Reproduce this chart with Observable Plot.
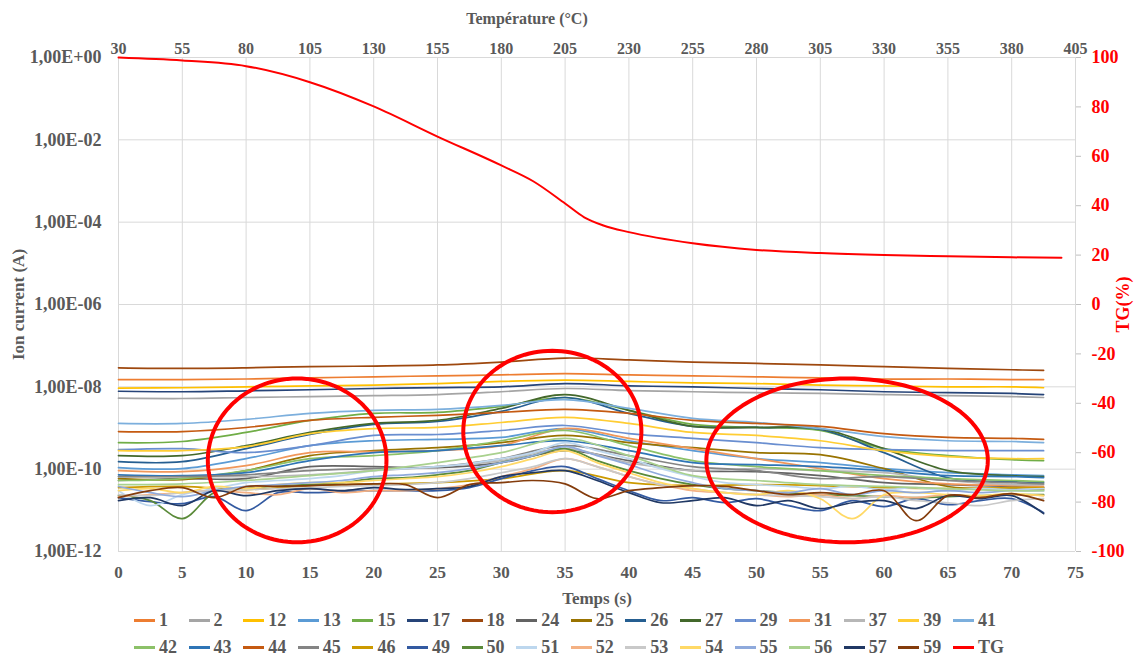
<!DOCTYPE html>
<html><head><meta charset="utf-8">
<script src="https://cdn.jsdelivr.net/npm/d3@7"></script>
<script src="https://cdn.jsdelivr.net/npm/@observablehq/plot@0.6"></script>
<style>
body{margin:0;background:#fff;font-family:"Liberation Serif","Times New Roman",serif;}
#chart svg{display:block;}
#chart svg text{font-family:"Liberation Serif","Times New Roman",serif !important;font-weight:bold;font-variant-numeric:normal !important;}
#legend{width:1137px;height:52px;margin-top:-5px;position:relative;font-weight:bold;font-size:18px;color:#595959;font-family:"Liberation Serif","Times New Roman",serif;}
.row{display:flex;padding-left:134px;height:27px;align-items:center;}
.item{width:54.6px;display:flex;align-items:center;flex:none;}
.sw{width:21px;height:2.5px;margin-right:4px;}
</style></head><body>
<div id="chart"></div><div id="legend"></div>
<script>
// ---- axes / ticks ----
const TIME_TICKS = [0,5,10,15,20,25,30,35,40,45,50,55,60,65,70,75];
const TEMP_LABELS = [30,55,80,105,130,155,180,205,230,255,280,305,330,355,380,405];
const LEFT_TICKS = [1,1e-2,1e-4,1e-6,1e-8,1e-10,1e-12];
const LEFT_TICK_LABELS = ["1,00E+00","1,00E-02","1,00E-04","1,00E-06","1,00E-08","1,00E-10","1,00E-12"];
const RIGHT_TICK_LABELS = [100,80,60,40,20,0,-20,-40,-60,-80,-100];

// ---- time grids (s) ----
const T5 = [0,5,10,15,20,25,30,35,40,45,50,55,60,65,70,72.5];
const T25 = [0,2.5,5,7.5,10,12.5,15,17.5,20,22.5,25,27.5,30,32.5,35,37.5,40,42.5,45,47.5,50,52.5,55,57.5,60,62.5,65,67.5,70,72.5];

// ---- ion current series (A) ----
const s1 = [1.5e-8,1.5e-8,1.55e-8,1.65e-8,1.75e-8,1.85e-8,1.95e-8,2.1e-8,1.95e-8,1.85e-8,1.75e-8,1.65e-8,1.55e-8,1.55e-8,1.5e-8,1.5e-8];
const s2 = [5.3e-9,5.2e-9,5.5e-9,5.8e-9,6.1e-9,6.5e-9,7.6e-9,9.1e-9,8.1e-9,7.6e-9,7.2e-9,6.9e-9,6.5e-9,6.1e-9,5.8e-9,5.5e-9];
const s12 = [9.3e-9,9.5e-9,1.0e-8,1.05e-8,1.1e-8,1.2e-8,1.35e-8,1.45e-8,1.35e-8,1.25e-8,1.2e-8,1.1e-8,1.05e-8,1.0e-8,1.0e-8,9.5e-9];
const s13 = [1.09e-10,1.03e-10,1.8e-10,3.72e-10,4.9e-10,5.3e-10,5.9e-10,9.7e-10,4.9e-10,2.82e-10,1.8e-10,1.44e-10,1.03e-10,8.2e-11,7.3e-11,6.95e-11];
const s15 = [4.4e-10,4.7e-10,7.8e-10,1.53e-9,2.27e-9,2.4e-9,3.36e-9,5.5e-9,2.69e-9,1.22e-9,1.03e-9,8.7e-10,3.15e-10,2.13e-10,1.7e-10,1.61e-10];
const s17 = [7.8e-9,7.6e-9,8.0e-9,8.5e-9,9.1e-9,9.6e-9,1.0e-8,1.2e-8,1.06e-8,1.0e-8,9.1e-9,8.5e-9,7.6e-9,7.2e-9,6.9e-9,6.5e-9];
const s18 = [2.9e-8,2.8e-8,2.9e-8,3.1e-8,3.2e-8,3.4e-8,4.0e-8,5.0e-8,4.5e-8,4.0e-8,3.7e-8,3.4e-8,3.1e-8,2.8e-8,2.6e-8,2.5e-8];
const s24 = [5.3e-11,5.9e-11,5.9e-11,1.15e-10,1.15e-10,1.09e-10,1.44e-10,2.82e-10,1.61e-10,9.2e-11,8.7e-11,6.95e-11,4.7e-11,4.2e-11,3.8e-11,3.55e-11];
const s25 = [5.9e-11,5.6e-11,9.2e-11,2.13e-10,2.82e-10,3.33e-10,4.4e-10,6.6e-10,4.4e-10,3.33e-10,2.52e-10,2.25e-10,1.03e-10,3.8e-11,3.36e-11,3.2e-11];
const s26 = [1.52e-10,1.52e-10,3.15e-10,6.95e-10,1.22e-9,1.44e-9,2.54e-9,5.5e-9,2.27e-9,1.09e-9,1.03e-9,9.2e-10,2.52e-10,6.2e-11,5.0e-11,4.7e-11];
const s27 = [2.13e-10,2.13e-10,3.72e-10,7.8e-10,1.29e-9,1.53e-9,3.0e-9,6.5e-9,2.69e-9,1.09e-9,1.03e-9,9.7e-10,3.15e-10,9.2e-11,6.95e-11,6.6e-11];
const s29 = [2.98e-10,3.15e-10,2.52e-10,3.72e-10,6.6e-10,6.95e-10,8.7e-10,1.15e-9,7.3e-10,5.6e-10,4.4e-10,3.33e-10,2.98e-10,2.82e-10,2.82e-10,2.82e-10];
const s31 = [9.2e-11,8.7e-11,1.22e-10,2.52e-10,2.66e-10,2.82e-10,3.72e-10,9.7e-10,5.6e-10,3.15e-10,1.8e-10,1.03e-10,5.9e-11,4.4e-11,4.0e-11,3.8e-11];
const s37 = [6.6e-11,6.6e-11,6.6e-11,7.3e-11,9.2e-11,1.15e-10,1.61e-10,3.15e-10,1.44e-10,9.2e-11,1.03e-10,9.2e-11,8.2e-11,5.3e-11,4.2e-11,4.2e-11];
const s39 = [2.82e-10,2.82e-10,3.52e-10,7.3e-10,9.7e-10,1.03e-9,1.36e-9,1.82e-9,1.29e-9,7.8e-10,6.6e-10,4.9e-10,2.82e-10,2.01e-10,1.8e-10,1.8e-10];
const s41 = [1.29e-9,1.29e-9,1.62e-9,2.27e-9,2.69e-9,2.84e-9,3.55e-9,4.9e-9,3.0e-9,1.72e-9,1.36e-9,9.7e-10,6.2e-10,4.9e-10,4.7e-10,4.4e-10];
const s42 = [5.3e-11,5.9e-11,9.2e-11,1.8e-10,2.13e-10,2.82e-10,4.9e-10,8.7e-10,3.72e-10,1.61e-10,1.15e-10,9.2e-11,6.95e-11,5.9e-11,5.3e-11,5.0e-11];
const s43 = [7.3e-11,6.95e-11,8.2e-11,1.61e-10,2.52e-10,2.82e-10,3.72e-10,4.9e-10,2.82e-10,1.44e-10,1.29e-10,1.15e-10,9.2e-11,6.95e-11,6.6e-11,6.2e-11];
const s44 = [8.2e-10,8.2e-10,1.03e-9,1.53e-9,1.82e-9,2.03e-9,2.4e-9,2.84e-9,2.27e-9,1.53e-9,1.29e-9,1.09e-9,7.3e-10,5.9e-10,5.6e-10,5.3e-10];
const s45 = [6.6e-11,6.6e-11,7.3e-11,9.2e-11,1.03e-10,1.15e-10,1.8e-10,3.72e-10,2.13e-10,1.15e-10,9.2e-11,5.9e-11,6.6e-11,5.3e-11,4.7e-11,4.4e-11];
const s46 = [3.55e-11,3.8e-11,3.2e-11,4.0e-11,4.4e-11,4.7e-11,5.9e-11,9.2e-11,4.7e-11,4.0e-11,4.2e-11,4.0e-11,3.55e-11,3.36e-11,3.55e-11,3.55e-11];
const s49 = [2.03e-11,1.62e-11,1.45e-11,2.15e-11,9.8e-12,2.69e-11,2.69e-11,2.84e-11,3.0e-11,3.0e-11,3.0e-11,3.55e-11,5.9e-11,9.2e-11,1.15e-10,5.9e-11,3.0e-11,1.72e-11,2.03e-11,1.53e-11,1.92e-11,1.3e-11,9.8e-12,1.72e-11,1.23e-11,1.92e-11,1.37e-11,1.72e-11,1.92e-11,8.8e-12];
const s50 = [2.27e-11,1.72e-11,6.3e-12,2.69e-11,3.36e-11,4.0e-11,4.2e-11,4.7e-11,5.9e-11,6.2e-11,7.3e-11,9.2e-11,1.44e-10,2.13e-10,3.15e-10,1.61e-10,9.2e-11,5.9e-11,4.2e-11,3.36e-11,3.0e-11,2.69e-11,2.4e-11,2.27e-11,2.15e-11,2.03e-11,2.15e-11,2.27e-11,2.4e-11,2.4e-11];
const s51 = [3.0e-11,1.3e-11,2.4e-11,3.36e-11,4.7e-11,5.3e-11,5.9e-11,6.95e-11,9.2e-11,1.03e-10,1.15e-10,1.36e-10,1.8e-10,2.52e-10,4.4e-10,2.82e-10,1.8e-10,1.03e-10,6.6e-11,4.7e-11,4.2e-11,3.8e-11,3.36e-11,3.8e-11,3.2e-11,3.55e-11,3.0e-11,3.36e-11,3.2e-11,3.36e-11];
const s52 = [2.15e-11,2.4e-11,2.69e-11,3.0e-11,2.69e-11,2.4e-11,3.36e-11,2.69e-11,3.0e-11,3.0e-11,3.36e-11,4.2e-11,6.6e-11,1.03e-10,1.8e-10,1.15e-10,6.6e-11,4.2e-11,3.0e-11,2.69e-11,2.4e-11,2.15e-11,2.4e-11,1.92e-11,2.27e-11,2.03e-11,2.4e-11,2.15e-11,2.4e-11,2.27e-11];
const s53 = [2.4e-11,2.27e-11,2.69e-11,3.0e-11,3.2e-11,3.36e-11,3.55e-11,3.8e-11,4.0e-11,4.2e-11,4.7e-11,5.9e-11,8.2e-11,1.15e-10,1.8e-10,1.15e-10,6.6e-11,4.2e-11,3.36e-11,2.69e-11,2.4e-11,2.27e-11,2.15e-11,1.92e-11,2.15e-11,1.72e-11,1.53e-11,1.3e-11,1.72e-11,1.92e-11];
const s54 = [3.0e-11,3.36e-11,2.69e-11,3.8e-11,3.36e-11,4.2e-11,4.7e-11,4.7e-11,5.3e-11,5.9e-11,6.6e-11,8.2e-11,1.15e-10,1.8e-10,2.82e-10,1.44e-10,8.2e-11,4.7e-11,3.36e-11,2.69e-11,2.4e-11,3.0e-11,1.92e-11,6.3e-12,2.4e-11,2.69e-11,2.4e-11,2.27e-11,2.54e-11,2.27e-11];
const s55 = [3.8e-11,2.69e-11,2.15e-11,3.0e-11,3.8e-11,4.2e-11,4.7e-11,5.3e-11,6.6e-11,7.3e-11,8.2e-11,1.03e-10,1.44e-10,2.13e-10,3.52e-10,2.13e-10,1.29e-10,7.3e-11,4.7e-11,3.36e-11,3.0e-11,2.69e-11,3.36e-11,2.4e-11,3.0e-11,2.69e-11,3.0e-11,2.69e-11,3.0e-11,3.0e-11];
const s56 = [4.2e-11,4.4e-11,5.3e-11,6.95e-11,9.2e-11,1.44e-10,2.52e-10,5.6e-10,2.13e-10,6.95e-11,5.3e-11,4.2e-11,3.8e-11,3.36e-11,3.0e-11,3.0e-11];
const s57 = [1.72e-11,2.03e-11,1.3e-11,3.0e-11,2.27e-11,3.0e-11,3.36e-11,3.0e-11,3.55e-11,3.2e-11,3.36e-11,3.8e-11,6.6e-11,8.2e-11,9.2e-11,5.3e-11,2.69e-11,1.53e-11,1.72e-11,2.03e-11,1.3e-11,1.72e-11,1.1e-11,1.53e-11,1.72e-11,1.1e-11,2.27e-11,1.92e-11,2.27e-11,8.3e-12];
const s59 = [2.03e-11,3.0e-11,3.55e-11,2.03e-11,3.8e-11,3.8e-11,4.0e-11,4.2e-11,4.4e-11,4.2e-11,2.03e-11,4.2e-11,4.7e-11,5.3e-11,4.4e-11,1.92e-11,3.0e-11,3.55e-11,4.0e-11,3.8e-11,3.0e-11,2.4e-11,2.69e-11,2.4e-11,3.0e-11,5.6e-12,2.27e-11,2.03e-11,2.54e-11,1.72e-11];

// ---- TG (%) ----
const TG_T = [0,5,10,15,20,25,30,32.5,35,36.5,38,40,45,50,55,60,65,70,73.9];
const TG = [100,98.8,96.5,90,80.2,68,56.3,49.9,40.9,35.3,32,29.3,24.8,22.1,20.8,20,19.5,19.1,18.9];

// ---- legend order, names and colours ----
const SERIES_NAMES = ["1","2","12","13","15","17","18","24","25","26","27","29","31","37","39","41","42","43","44","45","46","49","50","51","52","53","54","55","56","57","59"];
const SERIES_VALUES = [s1,s2,s12,s13,s15,s17,s18,s24,s25,s26,s27,s29,s31,s37,s39,s41,s42,s43,s44,s45,s46,s49,s50,s51,s52,s53,s54,s55,s56,s57,s59];
const SERIES_COLORS = ["#ED7D31","#A5A5A5","#FFC000","#5B9BD5","#70AD47","#264478","#9E480E","#636363","#997300","#255E91","#43682B","#698ED0","#F1975A","#B7B7B7","#FFCD33","#7CAFDD","#8CC168","#2E75B6","#C55A11","#848484","#CC9A00","#335AA1","#5A8A39","#BDD7EE","#F4B183","#C9C9C9","#FFD966","#8FAADC","#A9D18E","#203864","#843C0C"];
const TG_NAME = "TG", TG_COLOR = "#FF0000";

// ---- red highlight ellipses (centre time s, centre log10 A, radius s, radius decades) ----
const ELLIPSE_T = [14.0, 34.0, 57.1];
const ELLIPSE_LOG = [-9.786, -9.084, -9.786];
const ELLIPSE_RT = [7.0, 6.98, 11.03];
const ELLIPSE_RLOG = [1.99, 1.96, 1.99];

// TG (%) placed on the log axis: 100 % -> 1e0, -100 % -> 1e-12
const tgY = v => Math.pow(10, (v - 100) * 0.06);
const leftFmt = new Map(LEFT_TICKS.map((d, i) => [d, LEFT_TICK_LABELS[i]]));
const rightTicks = RIGHT_TICK_LABELS.map(tgY);
const rightFmt = new Map(rightTicks.map((d, i) => [d, RIGHT_TICK_LABELS[i]]));
const topFmt = new Map(TIME_TICKS.map((d, i) => [d, TEMP_LABELS[i]]));

const seriesMarks = SERIES_VALUES.map((vals, k) => {
  const ts = vals.length === T5.length ? T5 : T25;
  const rows = vals.map((v, i) => ({t: ts[i], v}));
  return Plot.line(rows, {x: "t", y: "v", stroke: SERIES_COLORS[k], strokeWidth: 1.7, curve: "catmull-rom"});
});

const tgRows = TG.map((v, i) => ({t: TG_T[i], v: tgY(v)}));

const ellRows = [];
ELLIPSE_T.forEach((ct, e) => {
  for (let k = 0; k <= 120; k++) {
    const a = 2 * Math.PI * k / 120;
    ellRows.push({id: e, t: ct + ELLIPSE_RT[e] * Math.cos(a), v: Math.pow(10, ELLIPSE_LOG[e] + ELLIPSE_RLOG[e] * Math.sin(a))});
  }
});

const plot = Plot.plot({
  width: 1137, height: 612,
  marginLeft: 118, marginRight: 62, marginTop: 57, marginBottom: 61,
  style: {fontFamily: '"Liberation Serif", "Times New Roman", serif', fontWeight: "bold", fontSize: "17px", color: "#595959", background: "#fff"},
  x: {domain: [0, 75]},
  y: {type: "log", domain: [1e-12, 1]},
  marks: [
    Plot.gridX({ticks: TIME_TICKS, stroke: "#d9d9d9", strokeOpacity: 1}),
    Plot.gridY({ticks: LEFT_TICKS, stroke: "#d9d9d9", strokeOpacity: 1}),
    Plot.axisX({anchor: "bottom", ticks: TIME_TICKS, tickSize: 0, tickPadding: 14, label: null, fontSize: 17, fill: "#595959"}),
    Plot.axisX({anchor: "top", ticks: TIME_TICKS, tickFormat: d => topFmt.get(d), tickSize: 0, tickPadding: 4, label: null, fontSize: 16, fill: "#595959"}),
    Plot.axisY({anchor: "left", ticks: LEFT_TICKS, tickFormat: d => leftFmt.get(d), tickSize: 0, tickPadding: 17, label: null, fontSize: 18, fill: "#595959"}),
    Plot.axisY({anchor: "right", ticks: rightTicks, tickFormat: d => rightFmt.get(d), tickSize: 5, tickPadding: 11, label: null, fontSize: 18, fill: "#FF0000", stroke: "#bfbfbf"}),
    Plot.text(["Température (°C)"], {frameAnchor: "top", dx: -70, dy: -39, text: d => d, fontSize: 16, fill: "#595959", textAnchor: "middle", lineAnchor: "middle"}),
    Plot.text(["Temps (s)"], {frameAnchor: "bottom", dy: 47, text: d => d, fontSize: 17, fill: "#595959", textAnchor: "middle", lineAnchor: "middle"}),
    Plot.text(["Ion current (A)"], {frameAnchor: "left", dx: -100, rotate: -90, text: d => d, fontSize: 17, fill: "#595959", textAnchor: "middle", lineAnchor: "middle"}),
    Plot.text(["TG(%)"], {frameAnchor: "right", dx: 48, rotate: -90, text: d => d, fontSize: 18, fill: "#FF0000", textAnchor: "middle", lineAnchor: "middle"}),
    ...seriesMarks,
    Plot.line(tgRows, {x: "t", y: "v", stroke: TG_COLOR, strokeWidth: 2, curve: "monotone-x"}),
    Plot.line(ellRows, {x: "t", y: "v", z: "id", stroke: "#FF0000", strokeWidth: 4, curve: "linear"})
  ]
});
document.getElementById("chart").appendChild(plot);

// ---- legend ----
const names = [...SERIES_NAMES, TG_NAME];
const cols = [...SERIES_COLORS, TG_COLOR];
const legend = document.getElementById("legend");
[names.slice(0, 16), names.slice(16)].forEach((rowNames, r) => {
  const row = document.createElement("div");
  row.className = "row";
  rowNames.forEach((n, j) => {
    const it = document.createElement("div");
    it.className = "item";
    const sw = document.createElement("span");
    sw.className = "sw";
    sw.style.background = cols[r * 16 + j];
    const tx = document.createElement("span");
    tx.textContent = n;
    it.appendChild(sw); it.appendChild(tx);
    row.appendChild(it);
  });
  legend.appendChild(row);
});
</script></body></html>
